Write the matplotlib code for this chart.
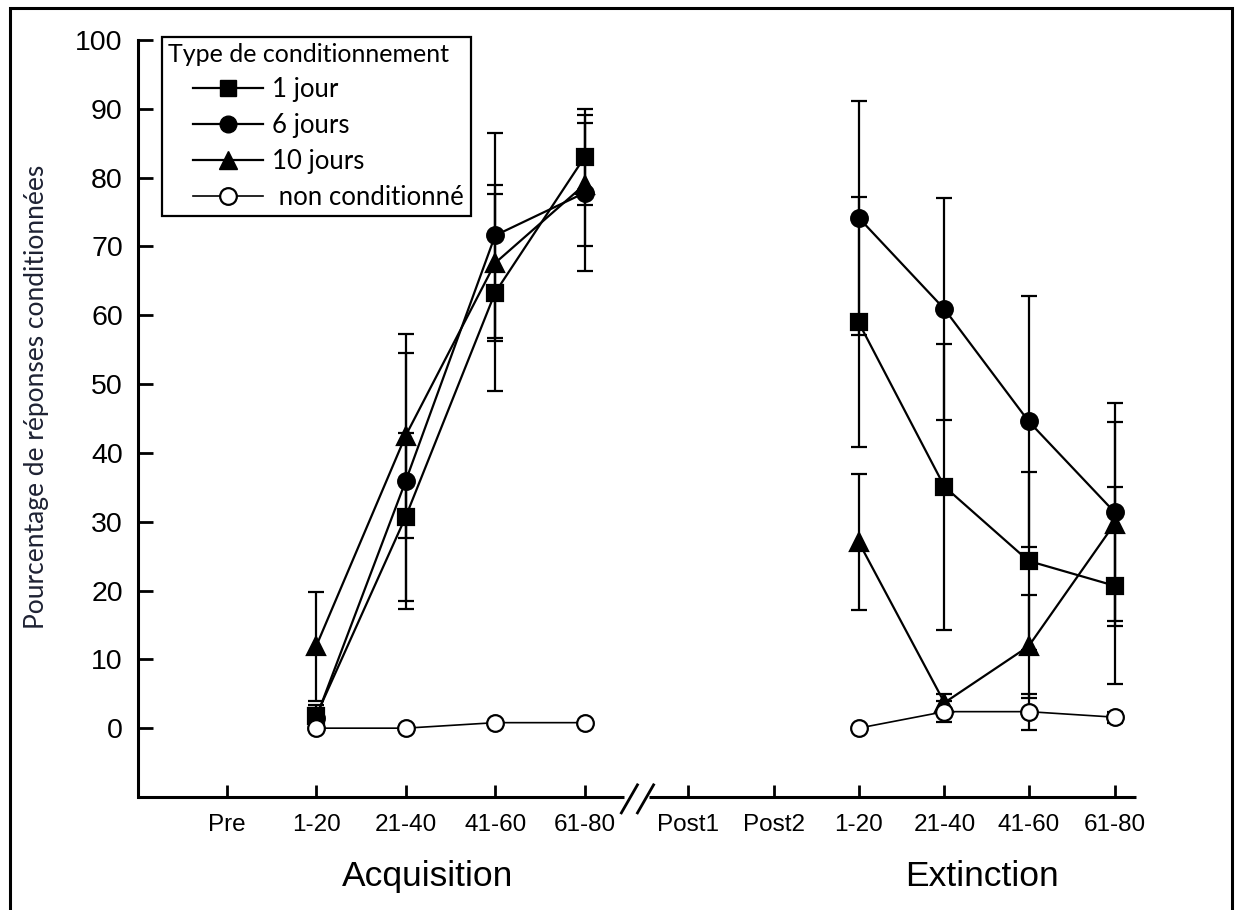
import matplotlib.pyplot as plt
import matplotlib.transforms as mtransforms
from matplotlib.lines import Line2D
from matplotlib.legend_handler import HandlerLine2D
from matplotlib.patches import Rectangle

# x axis categories and their positions (gap around the axis break)
tick_labels = ['Pre', '1-20', '21-40', '41-60', '61-80',
               'Post1', 'Post2', '1-20', '21-40', '41-60', '61-80']
tick_pos = [1, 2, 3, 4, 5, 6.16, 7.12, 8.06, 9.02, 9.96, 10.92]
break_x = 5.59

acq_x = tick_pos[1:5]
ext_x = tick_pos[7:11]

# 1 jour (squares)
jour1_acq = [1.8, 30.7, 63.3, 83.0]
jour1_acq_err = [1.5, 12.2, 14.3, 7.0]
jour1_ext = [59.0, 35.1, 24.3, 20.7]
jour1_ext_err = [18.2, 20.8, 12.9, 14.3]

# 6 jours (filled circles)
jour6_acq = [1.5, 35.9, 71.6, 77.8]
jour6_acq_err = [1.5, 18.6, 14.9, 11.3]
jour6_ext = [74.2, 60.9, 44.6, 31.4]
jour6_ext_err = [17.0, 16.1, 18.2, 15.8]

# 10 jours (triangles)
jour10_acq = [11.9, 42.5, 67.6, 79.0]
jour10_acq_err = [7.9, 14.8, 11.4, 9.0]
jour10_ext = [27.1, 3.7, 11.9, 29.7]
jour10_ext_err = [9.9, 1.3, 7.5, 14.8]

# non conditionne (open circles)
nc_acq = [0.0, 0.0, 0.8, 0.8]
nc_acq_err = [0.0, 0.0, 0.0, 0.0]
nc_ext = [0.0, 2.4, 2.4, 1.6]
nc_ext_err = [0.0, 1.5, 2.6, 0.8]

arial = 'Liberation Sans'
calibri = 'Lato'

fig = plt.figure(figsize=(12.38, 9.1), dpi=100)
ax = fig.add_axes([0.1115, 0.1242, 0.8061, 0.8318])

series = [
    (jour1_acq, jour1_acq_err, jour1_ext, jour1_ext_err, 's', 'black', 11, 1.6, 3),
    (jour6_acq, jour6_acq_err, jour6_ext, jour6_ext_err, 'o', 'black', 12, 1.6, 3),
    (jour10_acq, jour10_acq_err, jour10_ext, jour10_ext_err, '^', 'black', 13, 1.6, 3),
    (nc_acq, nc_acq_err, nc_ext, nc_ext_err, 'o', 'white', 12, 1.2, 4),
]
for a, ae, e, ee, mk, fc, ms, lw, z in series:
    for xs, ys, es in [(acq_x, a, ae), (ext_x, e, ee)]:
        ax.errorbar(xs, ys, yerr=es, fmt='none', ecolor='black',
                    elinewidth=1.6, capsize=6, capthick=1.6, zorder=2)
        ax.plot(xs, ys, color='black', lw=lw, marker=mk, ms=ms,
                mfc=fc, mec='black', mew=1.6, zorder=z)

ax.set_xlim(0.01, 11.16)
ax.set_ylim(-10, 100)

ax.spines['top'].set_visible(False)
ax.spines['right'].set_visible(False)
ax.spines['bottom'].set_visible(False)
ax.spines['left'].set_linewidth(2.2)
ax.spines['left'].set_bounds(-10, 100)

ax.set_yticks(range(0, 101, 10))
ax.set_xticks(tick_pos)
ax.set_xticklabels(tick_labels)
ax.tick_params(axis='y', direction='in', length=11, width=2, pad=11,
               labelsize=20.5)
ax.tick_params(axis='x', direction='in', length=9, width=2, pad=12.5,
               labelsize=17.5)
for lab in ax.get_xticklabels() + ax.get_yticklabels():
    lab.set_fontfamily(arial)

# broken x axis
trans = mtransforms.blended_transform_factory(ax.transData, ax.transAxes)
ax.plot([0.01, break_x - 0.15], [0, 0], color='black', lw=2.2,
        transform=trans, clip_on=False, solid_capstyle='butt')
ax.plot([break_x + 0.13, 11.16], [0, 0], color='black', lw=2.2,
        transform=trans, clip_on=False, solid_capstyle='butt')
for dx in [-0.09, 0.09]:
    ax.plot([break_x + dx - 0.09, break_x + dx + 0.09], [-0.021, 0.016],
            color='black', lw=2, transform=trans, clip_on=False)

# group labels
ax.text(3.25, -0.105, 'Acquisition', transform=trans, ha='center',
        va='center', fontsize=25.5, fontfamily=arial)
ax.text(9.44, -0.105, 'Extinction', transform=trans, ha='center',
        va='center', fontsize=25.5, fontfamily=arial)

fig.text(37 / 1238, 1 - 397 / 910, 'Pourcentage de réponses conditionnées',
         rotation=90, ha='center', va='center', fontsize=19,
         fontfamily=calibri, color='#1e2233')

handles = [
    Line2D([], [], color='black', lw=1.6, marker='s', ms=11, mfc='black'),
    Line2D([], [], color='black', lw=1.6, marker='o', ms=12, mfc='black'),
    Line2D([], [], color='black', lw=1.6, marker='^', ms=13, mfc='black'),
    Line2D([], [], color='black', lw=1.2, marker='o', ms=12, mfc='white',
           mec='black', mew=1.6),
]
labels = ['1 jour', '6 jours', '10 jours', ' non conditionné']
leg = ax.legend(handles, labels, title='Type de conditionnement',
                loc='upper left', bbox_to_anchor=(0.024, 1.004),
                borderaxespad=0, frameon=True, fancybox=False,
                edgecolor='black', framealpha=1, handlelength=3.7,
                labelspacing=0.42, borderpad=0.25, handletextpad=0.35,
                alignment='left', prop={'family': calibri, 'size': 18.5},
                title_fontproperties={'family': calibri, 'size': 18},
                handler_map={Line2D: HandlerLine2D(xpad=0.95)})
leg.get_frame().set_linewidth(1.6)

# frame around the whole picture
fig.patches.append(Rectangle((10 / 1238, -0.05), 1222 / 1238, 1.05 - 8 / 910,
                             transform=fig.transFigure, fill=False,
                             edgecolor='black', lw=2.2, clip_on=False))

fig.savefig('out.png', dpi=100)
